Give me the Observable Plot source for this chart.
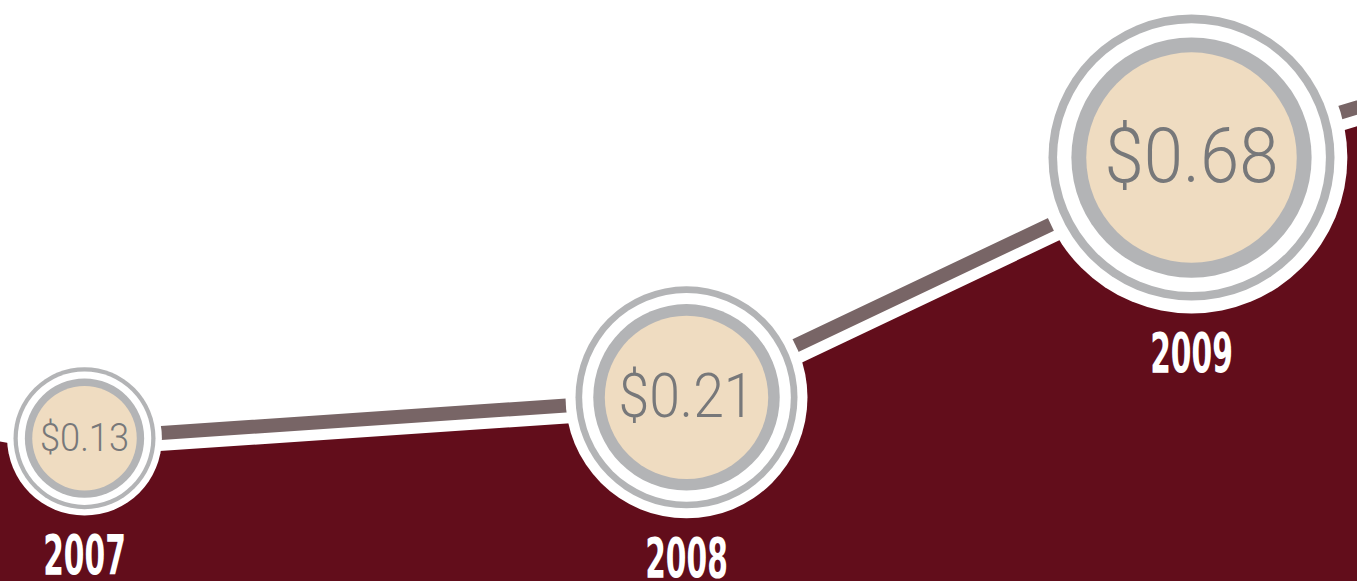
<!DOCTYPE html>
<html><head><meta charset="utf-8">
<script src="https://cdn.jsdelivr.net/npm/d3@7"></script>
<script src="https://cdn.jsdelivr.net/npm/@observablehq/plot@0.6"></script>
<style>html,body{margin:0;padding:0;overflow:hidden;background:#fff}</style>
</head><body><div id="chart"></div>
<script>
// Series (2006 and 2010 lie just outside the visible frame)
const years = [2006, 2007, 2008, 2009, 2010];
const values = [0.34, 0.13, 0.21, 0.68, 0.98];
// Labelled points
const labelYears = [2007, 2008, 2009];
const labelValues = [0.13, 0.21, 0.68];
const valueLabels = ["$0.13", "$0.21", "$0.68"];
const yearLabels = ["2007", "2008", "2009"];

const W = 1357, H = 581;
const yDomain = [-0.151, 0.988];
const xSpec = {type: "linear", domain: years, range: [-518, 84, 686, 1191, 1696]};
const ySpec = {type: "linear", domain: yDomain, range: [H, 0]};
const yS = Plot.scale({y: ySpec});
const rS = Plot.scale({r: {type: "linear", domain: labelValues, range: [71, 111, 143]}});

const series = years.map((y, i) => ({year: y, value: values[i]}));
const lineSeries = series.filter(d => d.year >= labelYears[0]);
const points = labelYears.map((y, i) => {
  const R = rS.apply(labelValues[i]);
  return {
    year: y, value: labelValues[i], R, label: valueLabels[i], yearLabel: yearLabels[i],
    labelY: yS.invert(yS.apply(labelValues[i]) + 1.09 * R + 41)
  };
});

const ring = (f, fill) => Plot.dot(points, {x: "year", y: "value", r: d => d.R * f, fill, stroke: null});

const chart = Plot.plot({
  width: W, height: H,
  marginTop: 0, marginRight: 0, marginBottom: 0, marginLeft: 0,
  x: {...xSpec, axis: null},
  y: {...ySpec, axis: null},
  r: {type: "identity"},
  style: {background: "#fff", overflow: "hidden"},
  marks: [
    Plot.areaY(series, {x: "year", y1: () => yDomain[0], y2: "value", fill: "#620d1b", clip: true}),
    Plot.line(series, {x: "year", y: "value", stroke: "#ffffff", strokeWidth: 36, clip: true}),
    Plot.line(lineSeries, {x: "year", y: "value", stroke: "#786566", strokeWidth: 14, strokeLinecap: "butt", clip: true}),
    ring(1.09, "#ffffff"),
    ring(1.0, "#b3b4b6"),
    ring(0.94, "#ffffff"),
    ring(0.84, "#b3b4b6"),
    ring(0.736, "#efdcc1"),
    Plot.text(points, {x: "year", y: "value", text: "label", fontSize: d => d.R * 0.52 + 2.5,
      fill: "#77787a", fontFamily: "Roboto, 'DejaVu Sans'", fontWeight: 300, lineAnchor: "middle", textAnchor: "middle"}),
    Plot.text(points, {x: "year", y: "labelY", text: "yearLabel", fontSize: 56,
      fill: "#ffffff", fontFamily: "'Liberation Sans Narrow', 'DejaVu Sans Condensed', sans-serif", fontWeight: "bold", lineAnchor: "middle", textAnchor: "middle"})
  ]
});
document.getElementById("chart").appendChild(chart);

// Condense the glyphs horizontally like the reference typefaces
const textGroups = chart.querySelectorAll('g[aria-label="text"]');
const squeeze = [0.92, 0.59];
textGroups.forEach((g, k) => {
  g.querySelectorAll("text").forEach(t => {
    const tr = t.getAttribute("transform") || "";
    t.setAttribute("transform", tr + ` scale(${squeeze[k]},1)`);
  });
});
</script>
</body></html>
